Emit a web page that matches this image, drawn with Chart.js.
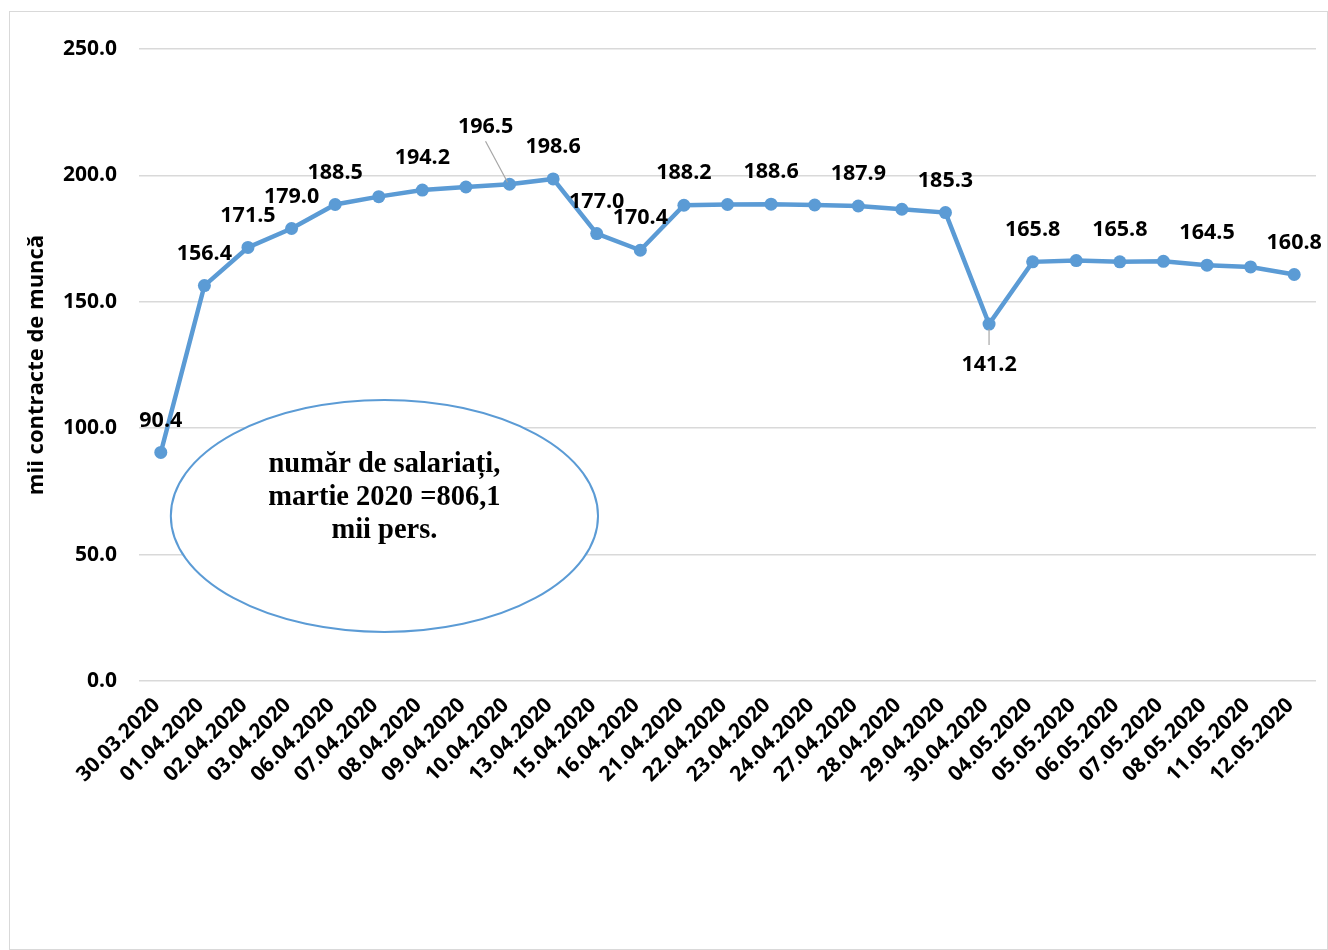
<!DOCTYPE html>
<html>
<head>
<meta charset="utf-8">
<script src="https://cdn.jsdelivr.net/npm/chart.js@4.4.1/dist/chart.umd.min.js"></script>
<style>
  body { margin: 0; background: #fff; }
  #box {
    position: absolute; left: 9px; top: 11px;
    width: 1319px; height: 939px;
    border: 1.5px solid #d9d9d9; box-sizing: border-box;
  }
</style>
</head>
<body>
<div id="box"><canvas id="contractsChart"></canvas></div>
<script>
const dates = ['30.03.2020', '01.04.2020', '02.04.2020', '03.04.2020', '06.04.2020', '07.04.2020',
    '08.04.2020', '09.04.2020', '10.04.2020', '13.04.2020', '15.04.2020', '16.04.2020',
    '21.04.2020', '22.04.2020', '23.04.2020', '24.04.2020', '27.04.2020', '28.04.2020',
    '29.04.2020', '30.04.2020', '04.05.2020', '05.05.2020', '06.05.2020', '07.05.2020',
    '08.05.2020', '11.05.2020', '12.05.2020'];
const contracts = [90.4, 156.4, 171.5, 179.0, 188.5, 191.6, 194.2, 195.4, 196.5, 198.6, 177.0, 170.4,
    188.2, 188.5, 188.6, 188.3, 187.9, 186.6, 185.3, 141.2, 165.8, 166.3, 165.8, 166.0,
    164.5, 163.8, 160.8];
// points that carry a value label in the original
const labelled = [0, 1, 2, 3, 4, 6, 8, 9, 10, 11, 12, 14, 16, 18, 19, 20, 22, 24, 26];
const yTicks = [0, 50, 100, 150, 200, 250];
const noteLines = ['număr de salariați,', 'martie 2020 =806,1', 'mii pers.'];

const blue = '#5b9bd5';
const sans = '"Open Sans"';

const valueLabels = {
    id: 'valueLabels',
    afterDatasetsDraw(chart) {
        const ctx = chart.ctx;
        const pts = chart.getDatasetMeta(0).data;
        ctx.save();
        ctx.font = 'bold 21.5px ' + sans;
        ctx.fillStyle = '#000';
        ctx.textAlign = 'center';
        ctx.textBaseline = 'middle';
        labelled.forEach(i => {
            const p = pts[i];
            let dx = 0, dy = -32;
            if (i === 8) {
                dx = -24; dy = -57;
                ctx.strokeStyle = '#a6a6a6';
                ctx.lineWidth = 1.2;
                ctx.beginPath();
                ctx.moveTo(p.x + dx, p.y + dy + 14);
                ctx.lineTo(p.x - 2, p.y - 2);
                ctx.stroke();
            }
            if (i === 19) {
                dy = 41;
                ctx.strokeStyle = '#a6a6a6';
                ctx.lineWidth = 1.2;
                ctx.beginPath();
                ctx.moveTo(p.x, p.y + 5);
                ctx.lineTo(p.x, p.y + 21);
                ctx.stroke();
            }
            ctx.fillText(contracts[i].toFixed(1), p.x + dx, p.y + dy);
        });
        ctx.restore();
    }
};

const noteEllipse = {
    id: 'noteEllipse',
    afterDatasetsDraw(chart) {
        const ctx = chart.ctx;
        const x = chart.scales.x, y = chart.scales.y;
        const cx = x.getPixelForValue(5.13);
        const cy = y.getPixelForValue(65.3);
        const rx = x.getPixelForValue(5.13 + 4.9) - cx;
        const ry = cy - y.getPixelForValue(65.3 + 45.9);
        ctx.save();
        ctx.beginPath();
        ctx.ellipse(cx, cy, rx, ry, 0, 0, Math.PI * 2);
        ctx.fillStyle = '#fff';
        ctx.fill();
        ctx.strokeStyle = blue;
        ctx.lineWidth = 2;
        ctx.stroke();
        ctx.fillStyle = '#000';
        ctx.font = 'bold 28.5px "Liberation Serif"';
        ctx.textAlign = 'center';
        ctx.textBaseline = 'middle';
        noteLines.forEach((t, k) => ctx.fillText(t, cx, cy - 51 + k * 33));
        ctx.restore();
    }
};

const ctx = document.getElementById('contractsChart').getContext('2d');
new Chart(ctx, {
    type: 'line',
    data: {
        labels: dates,
        datasets: [{
            data: contracts,
            borderColor: blue,
            backgroundColor: blue,
            borderWidth: 4.5,
            pointRadius: 6.5,
            pointHoverRadius: 6.5,
            pointBackgroundColor: blue,
            pointBorderWidth: 0,
            tension: 0
        }]
    },
    options: {
        responsive: true,
        maintainAspectRatio: false,
        animation: false,
        layout: { padding: { top: 37, right: 11, bottom: 158, left: 14 } },
        plugins: {
            legend: { display: false },
            tooltip: { enabled: false }
        },
        scales: {
            x: {
                offset: true,
                grid: { display: false, drawTicks: false },
                border: { display: false },
                ticks: {
                    color: '#000',
                    font: { family: sans, weight: 'bold', size: 21 },
                    maxRotation: 45,
                    minRotation: 45,
                    autoSkip: false,
                    padding: 12,
                    labelOffset: -4
                },
                afterFit(scale) { scale.height = 110; }
            },
            y: {
                min: 0,
                max: 250,
                afterBuildTicks(scale) { scale.ticks = yTicks.map(v => ({ value: v })); },
                grid: { color: '#d9d9d9', lineWidth: 1.5, drawTicks: false },
                border: { display: false },
                ticks: {
                    color: '#000',
                    font: { family: sans, weight: 'bold', size: 21 },
                    padding: 22,
                    callback: v => v.toFixed(1)
                },
                title: {
                    display: true,
                    text: 'mii contracte de muncă',
                    color: '#000',
                    font: { family: sans, weight: 'bold', size: 22 },
                    padding: 0
                },
                afterFit(scale) { scale.width = 115; }
            }
        }
    },
    plugins: [noteEllipse, valueLabels]
});
</script>
</body>
</html>
